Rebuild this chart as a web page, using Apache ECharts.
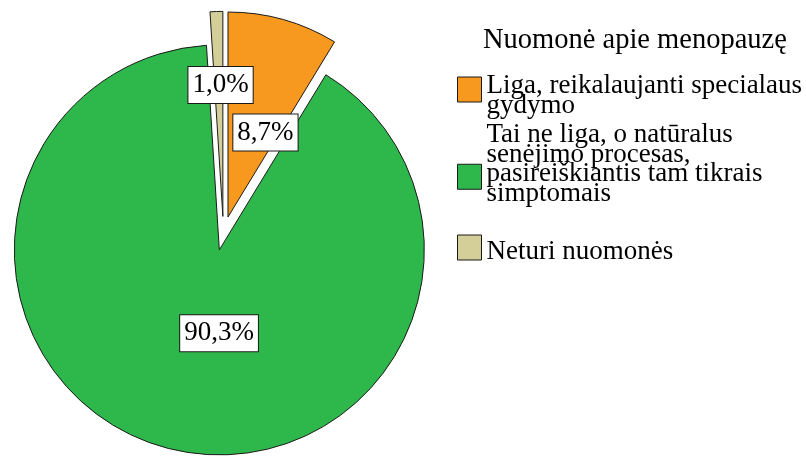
<!DOCTYPE html>
<html>
<head>
<meta charset="utf-8">
<script src="https://cdn.jsdelivr.net/npm/echarts@6/dist/echarts.min.js"></script>
<style>html,body{margin:0;padding:0;background:#fff}#c{width:806px;height:456px}</style>
</head>
<body>
<div id="c"></div>
<script>
const categories = ['Liga, reikalaujanti specialaus gydymo', 'Tai ne liga, o natūralus senėjimo procesas, pasireiškiantis tam tikrais simptomais', 'Neturi nuomonės'];
const legendLines = [['Liga, reikalaujanti specialaus', 'gydymo'], ['Tai ne liga, o natūralus', 'senėjimo procesas,', 'pasireiškiantis tam tikrais', 'simptomais'], ['Neturi nuomonės']];
const values = [8.7, 90.3, 1.0];
const colors = ['#F7981F', '#2EB84B', '#D4CF98'];
const legendTitle = 'Nuomonė apie menopauzę';

const FONT = '"Liberation Serif", "Times New Roman", serif';
const labelShift = [[9, 17], [25, -19], [1, -26]];
const legendTops = [69.5, 121.5, 234.5];
// spacer [before, after] to align text block with icon as in reference
const spacers = [['s13', null], [null, 's25'], ['s8', null]];

function legendText(i) {
  const parts = [];
  if (spacers[i][0]) parts.push('{' + spacers[i][0] + '| }');
  legendLines[i].forEach(l => parts.push('{l|' + l + '}'));
  if (spacers[i][1]) parts.push('{' + spacers[i][1] + '| }');
  return parts.join('\n');
}

const chart = echarts.init(document.getElementById('c'), null, {renderer: 'canvas'});
const data = categories.map((name, i) => ({
  name: name,
  value: values[i],
  selected: true,
  itemStyle: {color: colors[i]},
  select: {itemStyle: {color: colors[i], borderColor: '#1a1a1a', borderWidth: 1}}
}));

chart.setOption({
  animation: false,
  title: {
    text: legendTitle, left: 483, top: 26, padding: 0,
    textStyle: {fontFamily: FONT, fontSize: 28.5, fontWeight: 'normal', color: '#000', lineHeight: 29}
  },
  legend: categories.map((name, i) => ({
    data: [name],
    orient: 'vertical',
    left: 457, top: legendTops[i], padding: 0,
    itemWidth: 24, itemHeight: 25,
    icon: 'rect',
    selectedMode: false,
    itemStyle: {borderColor: '#1a1a1a', borderWidth: 1},
    formatter: () => legendText(i),
    textStyle: {
      fontFamily: FONT, fontSize: 27, color: '#000',
      rich: {
        l: {fontFamily: FONT, fontSize: 27, color: '#000', lineHeight: 19.5},
        s8: {fontSize: 1, lineHeight: 8},
        s13: {fontSize: 1, lineHeight: 13},
        s25: {fontSize: 1, lineHeight: 25}
      }
    }
  })),
  series: [{
    type: 'pie',
    center: [223.4, 233.4],
    radius: 205,
    startAngle: 90,
    clockwise: true,
    selectedMode: 'multiple',
    selectedOffset: 17,
    avoidLabelOverlap: false,
    silent: true,
    emphasis: {disabled: true},
    itemStyle: {borderColor: '#1a1a1a', borderWidth: 1},
    label: {
      show: true,
      position: 'inside',
      formatter: (p) => p.value.toFixed(1).replace('.', ',') + '%',
      fontFamily: FONT, fontSize: 27, color: '#000', lineHeight: 30,
      backgroundColor: '#fff', borderColor: '#1a1a1a', borderWidth: 1,
      padding: [3, 4, 3, 4]
    },
    labelLayout: (p) => ({dx: labelShift[p.dataIndex][0], dy: labelShift[p.dataIndex][1]}),
    labelLine: {show: false},
    data: data
  }]
});
</script>
</body>
</html>
